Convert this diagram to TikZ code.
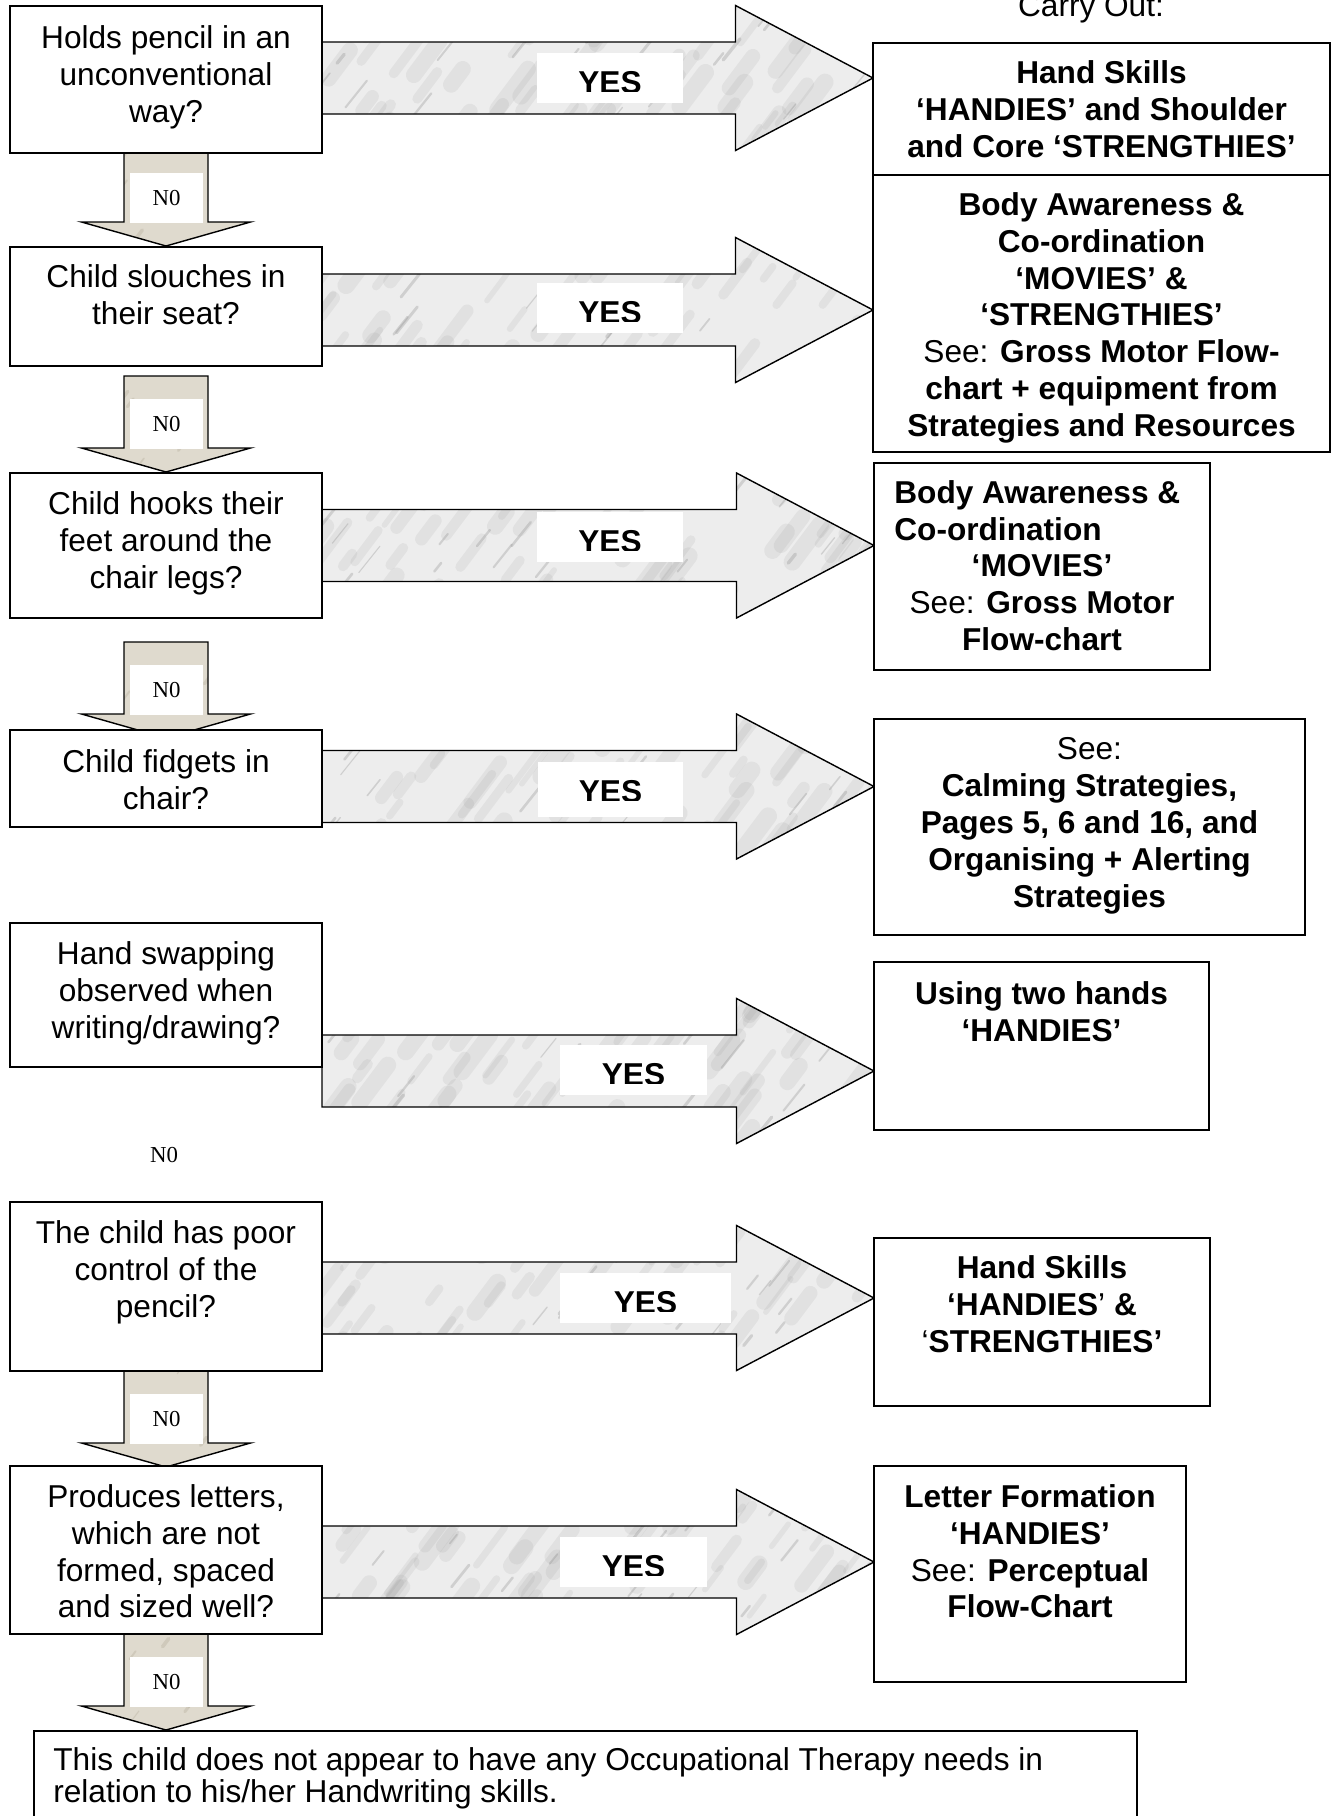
\documentclass[tikz,border=0pt]{standalone}
\usepackage{fontspec}
\setmainfont{Liberation Sans}
\newfontfamily\noface{Liberation Serif}
\usetikzlibrary{calc,fit,backgrounds}

\definecolor{marblebase}{HTML}{EDEDED}
\definecolor{marblevein}{HTML}{8C8C8C}
\definecolor{nofill}{HTML}{DFDACE}
\definecolor{novein}{HTML}{B3AB98}

\tikzset{
  panel/.style={draw, line width=1.1pt, fill=white, inner sep=0pt, outer sep=0pt},
  body/.style={inner sep=0pt, align=center, anchor=north, font=\fontsize{18}{21}\selectfont},
  bodybold/.style={body, font=\fontsize{18}{21}\selectfont\bfseries},
  blockline/.style={draw=black, line width=0.8pt, line join=miter},
  vein/.style={draw=marblevein, line cap=round},
  noveins/.style={draw=novein, opacity=0.35, line cap=round},
  yeslabel/.style={inner sep=0pt, anchor=base, font=\fontsize{18}{21}\selectfont\bfseries},
  nolabel/.style={inner sep=0pt, font=\noface\fontsize{13}{15}\selectfont},
}

% a framed panel spanning two corners
\newcommand\panel[5]{\node[panel, fit={(#2,#3) (#4,#5)}] (#1) {};}

% marbled block arrow from a question panel to an answer panel
% #1 name, #2 from, #3 to, #4 centre height, #5/#6 label left/right, #7 label top, #8 label height
\newcommand\yesarrow[8]{%
  \coordinate (#1-lvl) at (0,#4);
  \coordinate (#1-s) at (#2.east |- #1-lvl);
  \coordinate (#1-t) at (#3.west |- #1-lvl);
  \coordinate (#1-a) at ($(#1-s)+(0,-36)$);
  \coordinate (#1-b) at ($(#1-t)+(-137.5,-36)$);
  \coordinate (#1-c) at ($(#1-t)+(-137.5,-72.5)$);
  \coordinate (#1-d) at ($(#1-t)+(-137.5,72.5)$);
  \coordinate (#1-e) at ($(#1-t)+(-137.5,36)$);
  \coordinate (#1-f) at ($(#1-s)+(0,36)$);
  \begin{pgfonlayer}{background}
    \begin{scope}
      \clip (#1-a) -- (#1-b) -- (#1-c) -- (#1-t) -- (#1-d) -- (#1-e) -- (#1-f) -- cycle;
      \fill[marblebase] ($(#1-s)+(0,-80)$) rectangle ($(#1-t)+(0,80)$);
      % soft cloudy patches
      \foreach \k in {1,...,80}{%
        \pgfmathsetmacro\vx{570*rnd-10}%
        \pgfmathsetmacro\vy{180*rnd-90}%
        \pgfmathsetmacro\vw{3+7*rnd}%
        \pgfmathsetmacro\vl{12+30*rnd}%
        \draw[vein, opacity=0.12, line width=\vw pt] ($(#1-s)+(\vx,\vy)$) -- ++(\vl*0.75,-\vl);
      }
      % fine darker veins
      \foreach \k in {1,...,30}{%
        \pgfmathsetmacro\vx{570*rnd-10}%
        \pgfmathsetmacro\vy{180*rnd-90}%
        \pgfmathsetmacro\vw{0.6+1.4*rnd}%
        \pgfmathsetmacro\vl{8+20*rnd}%
        \draw[vein, opacity=0.3, line width=\vw pt] ($(#1-s)+(\vx,\vy)$) -- ++(\vl*0.8,-\vl);
      }
    \end{scope}
    \draw[blockline] (#1-a) -- (#1-b) -- (#1-c) -- (#1-t) -- (#1-d) -- (#1-e) -- (#1-f) -- cycle;
  \end{pgfonlayer}
  \fill[white] (#5,#7) rectangle (#6,#7+#8);
  \node[yeslabel] (#1-yes) at ({(#5+#6)/2},#7+40.5) {YES};
  \fill[white] (#5+10,#7+39) rectangle (#6-10,#7+45);
}

% downward block arrow below a question panel
% #1 name, #2 panel above, #3 shaft top
\newcommand\noarrow[3]{%
  \coordinate (#1-lvl) at (0,#3);
  \coordinate (#1-o) at (#2.south |- #1-lvl);
  \begin{pgfonlayer}{background}
    \begin{scope}
      \clip ($(#1-o)+(-42,0)$) -- ($(#1-o)+(42,0)$) -- ($(#1-o)+(42,72)$) -- ($(#1-o)+(84.5,72)$) -- ($(#1-o)+(0,96)$) -- ($(#1-o)+(-84.5,72)$) -- ($(#1-o)+(-42,72)$) -- cycle;
      \fill[nofill] ($(#1-o)+(-90,-5)$) rectangle ($(#1-o)+(90,100)$);
      \foreach \k in {1,...,14}{%
        \pgfmathsetmacro\vx{180*rnd-90}%
        \pgfmathsetmacro\vy{100*rnd}%
        \pgfmathsetmacro\vw{0.6+1.5*rnd}%
        \draw[noveins, line width=\vw pt] ($(#1-o)+(\vx,\vy)$) -- ++(6,-8);
      }
    \end{scope}
    \draw[blockline] ($(#1-o)+(-42,0)$) -- ($(#1-o)+(42,0)$) -- ($(#1-o)+(42,72)$) -- ($(#1-o)+(84.5,72)$) -- ($(#1-o)+(0,96)$) -- ($(#1-o)+(-84.5,72)$) -- ($(#1-o)+(-42,72)$) -- cycle;
  \end{pgfonlayer}
  \fill[white] ($(#1-o)+(-36,23)$) rectangle ($(#1-o)+(37,73)$);
  \node[nolabel] (#1-lab) at ($(#1-o)+(0.5,48)$) {N0};
}

\begin{document}
\begin{tikzpicture}[x=0.02cm, y=-0.02cm]
\pgfmathsetseed{20}
\useasboundingbox (0,0) rectangle (1338,1816);

% question panels
\panel{q1}{10}{6}{322}{153}
\panel{q2}{10}{247}{322}{366}
\panel{q3}{10}{473}{322}{618}
\panel{q4}{10}{730}{322}{827}
\panel{q5}{10}{923}{322}{1067}
\panel{q6}{10}{1202}{322}{1371}
\panel{q7}{10}{1466}{322}{1634}

% answer panels
\panel{r1}{873}{43}{1330}{175}
\panel{r2}{873}{175}{1330}{452}
\panel{r3}{874}{463}{1210}{670}
\panel{r4}{874}{719}{1305}{935}
\panel{r5}{874}{962}{1209}{1130}
\panel{r6}{874}{1238}{1210}{1406}
\panel{r7}{874}{1466}{1186}{1682}

% closing panel
\panel{fin}{34}{1731}{1137}{1850}

% heading over the answers
\node[inner sep=0pt, anchor=base, font=\fontsize{18}{21}\selectfont] (head) at (1091,16) {Carry Out:};

% YES arrows
\yesarrow{a1}{q1}{r1}{78}{537}{683}{53}{50}
\yesarrow{a2}{q2}{r2}{310}{537}{683}{283}{50}
\yesarrow{a3}{q3}{r3}{545.5}{537}{683}{512}{50}
\yesarrow{a4}{q4}{r4}{786.5}{538}{683}{762}{55}
\yesarrow{a5}{q5}{r5}{1071}{560}{707}{1045}{50}
\yesarrow{a6}{q6}{r6}{1298}{560}{731}{1273}{50}
\yesarrow{a7}{q7}{r7}{1562}{560}{707}{1537}{50}

% NO arrows
\noarrow{n1}{q1}{150}
\noarrow{n2}{q2}{376}
\noarrow{n3}{q3}{642}
\noarrow{n6}{q6}{1371}
\noarrow{n7}{q7}{1634}
\node[nolabel] (n5-lab) at (164,1155) {N0};

% questions
\node[body] (q1-text) at ($(q1.north)+(0,19)$) {Holds pencil in an\\unconventional\\way?};
\node[body] (q2-text) at ($(q2.north)+(0,17)$) {Child slouches in\\their seat?};
\node[body] (q3-text) at ($(q3.north)+(0,18)$) {Child hooks their\\feet around the\\chair legs?};
\node[body] (q4-text) at ($(q4.north)+(0,19)$) {Child fidgets in\\chair?};
\node[body] (q5-text) at ($(q5.north)+(0,18)$) {Hand swapping\\observed when\\writing/drawing?};
\node[body] (q6-text) at ($(q6.north)+(0,18)$) {The child has poor\\control of the\\pencil?};
\node[body] (q7-text) at ($(q7.north)+(0,18)$) {Produces letters,\\which are not\\formed, spaced\\and sized well?};

% answers
\node[bodybold] (r1-text) at ($(r1.north)+(0,17)$) {Hand Skills\\‘HANDIES’ and Shoulder\\and Core ‘STRENGTHIES’};
\node[bodybold] (r2-text) at ($(r2.north)+(0,17)$) {Body Awareness \&\\Co-ordination\\‘MOVIES’ \&\\‘STRENGTHIES’\\{\mdseries See:} Gross Motor Flow-\\chart + equipment from\\Strategies and Resources};
\node[bodybold, anchor=north west, align=left] (r3-head) at ($(r3.north west)+(20,17)$) {Body Awareness \&\\Co-ordination};
\node[bodybold] (r3-text) at ($(r3.north)+(0,90.8)$) {‘MOVIES’\\{\mdseries See:} Gross Motor\\Flow-chart};
\node[bodybold] (r4-text) at ($(r4.north)+(0,18)$) {{\mdseries See:}\\Calming Strategies,\\Pages 5, 6 and 16, and\\Organising + Alerting\\Strategies};
\node[bodybold] (r5-text) at ($(r5.north)+(0,19)$) {Using two hands\\‘HANDIES’};
\node[bodybold] (r6-text) at ($(r6.north)+(0,17)$) {Hand Skills\\‘HANDIES{\mdseries ’} \&\\{\mdseries ‘}STRENGTHIES’};
\node[bodybold] (r7-text) at ($(r7.north)+(0,18)$) {Letter Formation\\‘HANDIES’\\{\mdseries See:} Perceptual\\Flow-Chart};

% conclusion
\node[inner sep=0pt, anchor=north west, align=left, font=\fontsize{18}{18.6}\selectfont] (fin-text) at (53,1747) {This child does not appear to have any Occupational Therapy needs in\\relation to his/her Handwriting skills.};
\end{tikzpicture}
\end{document}
